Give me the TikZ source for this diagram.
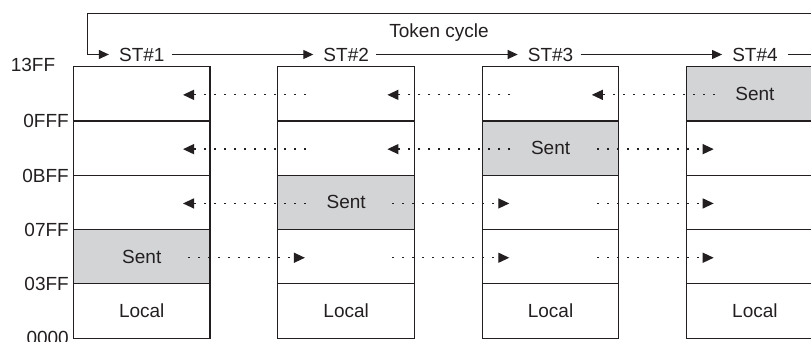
\documentclass[tikz,border=0pt]{standalone}
\usepackage{fontspec}
\setmainfont{Liberation Sans}
\usetikzlibrary{arrows.meta,calc}
\definecolor{sentgray}{RGB}{211,212,214}
\definecolor{ink}{RGB}{35,31,32}
\begin{document}
\begin{tikzpicture}[x=1pt,y=-1pt,
  font=\fontsize{19}{22}\selectfont, text=ink,
  cell/.style={draw=ink, line width=1.1pt, minimum width=136.5pt, minimum height=54.3pt, inner sep=0pt, outer sep=0pt, anchor=north west},
  sentcell/.style={cell, fill=sentgray},
  addr/.style={anchor=east, inner sep=0pt, text height=13.6pt, text depth=0pt},
  stlabel/.style={inner sep=0pt, text height=13.6pt, text depth=0pt},
  tok/.style={draw=ink, line width=1.1pt, -{Triangle[length=10pt,width=9pt]}, shorten <=7pt, shorten >=10pt},
  dotarrow/.style={draw=ink, line width=1.3pt, dash pattern=on 2pt off 8pt, -{Triangle[length=11pt,width=10pt]}}
]
\useasboundingbox (0,0) rectangle (811,342);
\clip (0,0) rectangle (811,342);

% memory columns
\foreach \k/\s in {1/4,2/3,3/2,4/1}{
  \foreach \r in {1,...,5}{
    \pgfmathsetmacro\xl{73.5+204.4*(\k-1)}
    \pgfmathsetmacro\yt{66.7+54.3*(\r-1)}
    \ifnum\r=\s
      \node[sentcell] (c\k-\r) at (\xl,\yt) {Sent};
    \else
      \ifnum\r=5
        \node[cell] (c\k-\r) at (\xl,\yt) {Local};
      \else
        \node[cell] (c\k-\r) at (\xl,\yt) {};
      \fi
    \fi
  }
}

% address labels
\node[anchor=center, inner sep=0pt, text height=13.6pt, text depth=0pt] (a0) at (33,65) {13FF};
\node[addr] (a1) at (69,121) {0FFF};
\node[addr] (a2) at (69,175.3) {0BFF};
\node[addr] (a3) at (69,229.7) {07FF};
\node[addr] (a4) at (69,284) {03FF};
\node[addr] (a5) at (69,337.5) {0000};

% dotted transfer arrows
\foreach \r/\s in {1/4,2/3,3/2,4/1}{
  \foreach \k in {1,2,3}{
    \pgfmathtruncatemacro\kn{\k+1}
    \ifnum\kn>\s
      \draw[dotarrow] ($(c\k-\r.east)+(-22,1)$) -- ($(c\kn-\r.west)+(27,1)$);
    \else
      \draw[dotarrow] ($(c\kn-\r.west)+(28,1)$) -- ($(c\k-\r.east)+(-27,1)$);
    \fi
  }
}

% token cycle
\node[stlabel] (st1) at (141.8,54.5) {ST\#1};
\node[stlabel] (st2) at (346.2,54.5) {ST\#2};
\node[stlabel] (st3) at (550.6,54.5) {ST\#3};
\node[stlabel] (st4) at (755,54.5) {ST\#4};
\node[inner sep=0pt] (tc) at (439,33) {Token cycle};
\coordinate (corner) at (87.3,13.3);
\coordinate (rightend) at (840,54.5);
\draw[tok] (st1) -- (st2);
\draw[tok] (st2) -- (st3);
\draw[tok] (st3) -- (st4);
\draw[tok, shorten <=10pt] (st4.east) -- (rightend) |- (corner) |- (st1.west);
\end{tikzpicture}
\end{document}
